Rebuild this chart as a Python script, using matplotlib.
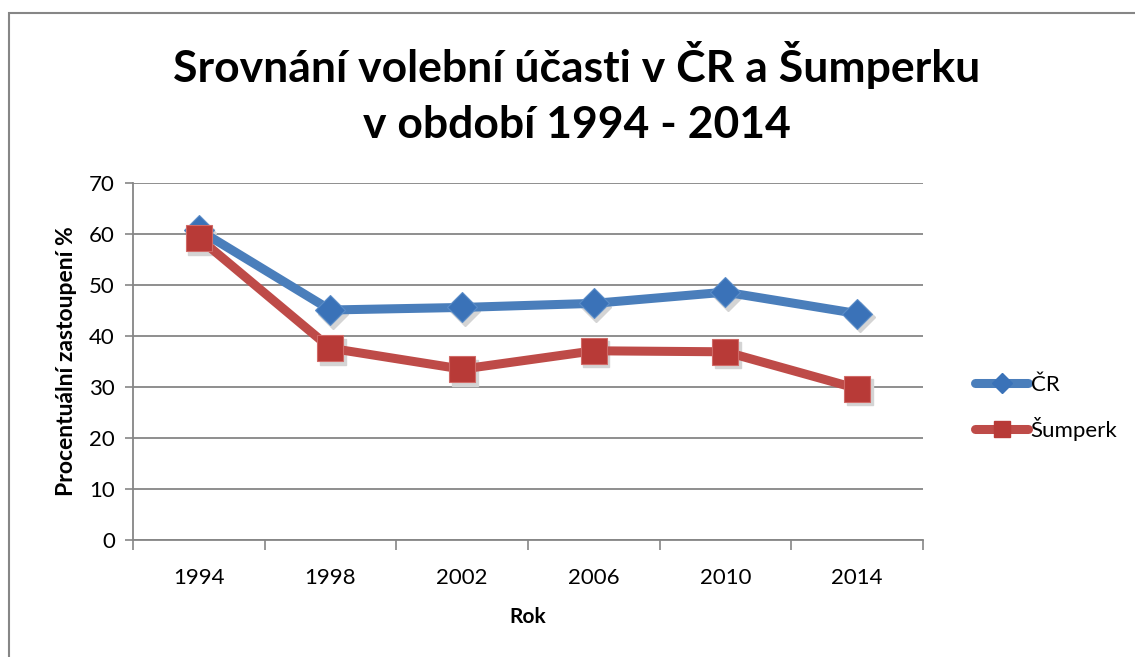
import matplotlib.pyplot as plt
from matplotlib.patches import Rectangle
from matplotlib.lines import Line2D

years = ["1994", "1998", "2002", "2006", "2010", "2014"]
cr = [60.8, 45.1, 45.6, 46.4, 48.6, 44.4]
sumperk = [59.2, 37.6, 33.5, 37.1, 36.9, 29.7]

blue = "#4a7ebb"
red = "#be4b48"
grid_c = "#868686"

plt.rcParams["font.family"] = ["Lato", "DejaVu Sans"]

fig = plt.figure(figsize=(11.35, 6.57), dpi=100)
ax = fig.add_axes([133 / 1135, 1 - 540 / 657, (923 - 133) / 1135, (540 - 183) / 657])

# outer chart border
fig.patches.append(Rectangle((8.5 / 1135, -0.1), 1.2, 1 - 12.5 / 657 + 0.1,
                             transform=fig.transFigure, fill=False,
                             edgecolor=grid_c, linewidth=1.5))

x = range(len(years))

# marker shadows
ax.plot([i + 0.02 for i in x], [v - 0.7 for v in cr], linestyle="none", marker="D",
        markersize=15, color="#d4d4d4", zorder=2)
ax.plot([i + 0.02 for i in x], [v - 0.7 for v in sumperk], linestyle="none", marker="s",
        markersize=19, color="#d4d4d4", zorder=2)

ax.plot(x, cr, color=blue, linewidth=6.5, marker="D", markersize=15,
        markerfacecolor="#3a72b8", markeredgecolor="#5a8cc8", markeredgewidth=0.8,
        solid_capstyle="round", zorder=3)
ax.plot(x, sumperk, color=red, linewidth=6.5, marker="s", markersize=19,
        markerfacecolor="#b83a37", markeredgecolor="#d06a67", markeredgewidth=0.8,
        solid_capstyle="round", zorder=4)

ax.set_xlim(-0.5, len(years) - 0.5)
ax.set_ylim(0, 70)
ax.set_yticks(range(0, 71, 10))
ax.set_xticks([i - 0.5 for i in range(len(years) + 1)], minor=False)
ax.set_xticklabels([])
ax.set_xticks(list(x), minor=True)
ax.set_xticklabels(years, minor=True)
ax.tick_params(axis="x", which="major", direction="out", length=7, color=grid_c, width=1.2)
ax.tick_params(axis="x", which="minor", length=0, pad=20, labelsize=16)
ax.tick_params(axis="y", direction="out", length=6, color=grid_c, width=1.2, labelsize=16, pad=7)

ax.grid(axis="y", color=grid_c, linewidth=1.3)
ax.set_axisbelow(True)
for s in ["top", "right"]:
    ax.spines[s].set_visible(False)
for s in ["left", "bottom"]:
    ax.spines[s].set_color(grid_c)
    ax.spines[s].set_linewidth(1.3)

ax.set_xlabel("Rok", fontsize=15, fontweight="bold", labelpad=14)
ax.set_ylabel("Procentuální zastoupení %", fontsize=16.5, fontweight="bold", labelpad=9)

fig.text(577 / 1135, 1 - 65 / 657, "Srovnání volební účasti v ČR a Šumperku", ha="center",
         va="center", fontsize=32, fontweight="bold")
fig.text(577 / 1135, 1 - 125 / 657, "v období 1994 - 2014", ha="center",
         va="center", fontsize=32, fontweight="bold")

handles = [
    Line2D([], [], color=blue, linewidth=6.5, marker="D", markersize=10,
           markerfacecolor="#3a72b8", markeredgecolor="#3a72b8", solid_capstyle="round"),
    Line2D([], [], color=red, linewidth=6.5, marker="s", markersize=12,
           markerfacecolor="#b83a37", markeredgecolor="#b83a37", solid_capstyle="round"),
]
fig.legend(handles, ["ČR", "Šumperk"], loc="center left",
           bbox_to_anchor=(955 / 1135, 1 - 408 / 657), frameon=False, fontsize=16,
           handlelength=2.4, handletextpad=0.1, labelspacing=1.0)

fig.savefig("out.png", dpi=100)
